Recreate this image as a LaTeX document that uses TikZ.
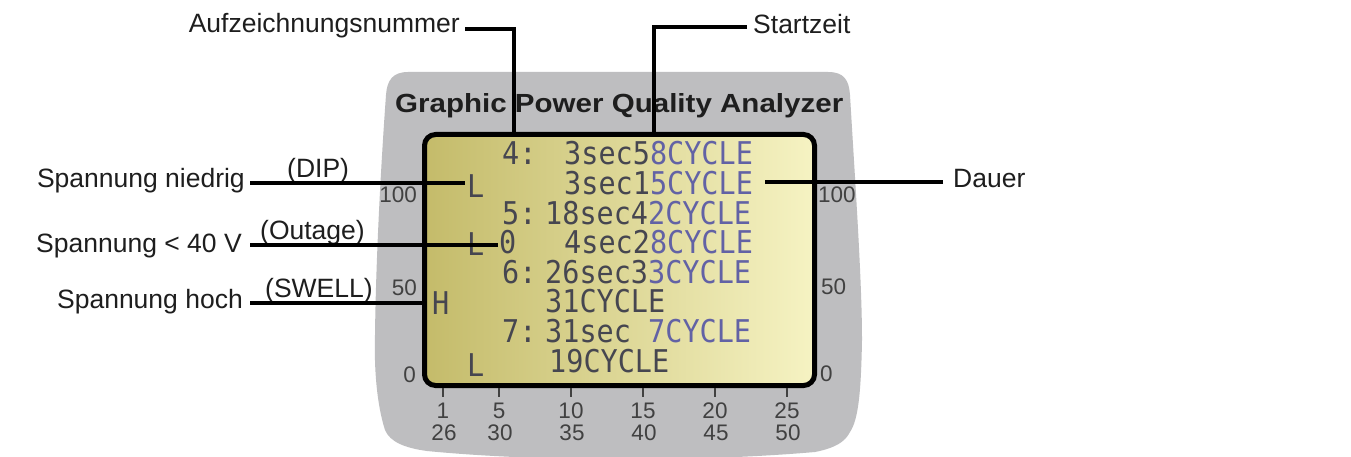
\documentclass[tikz,border=0pt]{standalone}
\usepackage{fontspec}
\usepackage{graphicx}
\setmainfont{Liberation Sans}
\newfontfamily\lcdfont{DejaVu Sans Mono}
\definecolor{bodyc}{RGB}{190,190,192}
\definecolor{lcdL}{RGB}{196,187,106}
\definecolor{lcdR}{RGB}{246,243,195}
\definecolor{lcdA}{RGB}{70,70,80}
\definecolor{lcdB}{RGB}{98,98,165}
\definecolor{labc}{RGB}{30,30,30}
\definecolor{numc}{RGB}{65,65,65}
\newcommand{\lcdtall}[1]{\scalebox{1}[1.1]{#1}}
\begin{document}
\begin{tikzpicture}[x=1pt,y=-1pt,
  lab/.style={font=\fontsize{26.5}{30}\selectfont, text=labc, inner sep=0pt},
  num/.style={font=\fontsize{22.5}{24}\selectfont, text=numc, inner sep=0pt},
  lcd/.style={font=\lcdfont\fontsize{28.5}{30}\selectfont, text=lcdA, inner sep=0pt, anchor=base west},
  conn/.style={draw=black, line width=3.2pt},
  tick/.style={draw=numc, line width=2pt},
]
\useasboundingbox (0,0) rectangle (1351,457);
\fill[white] (0,0) rectangle (1351,457);

% device body
\fill[bodyc] (408,72) -- (828,72)
  .. controls (844,72) and (849,80) .. (850,95)
  .. controls (855,180) and (862,280) .. (862,340)
  .. controls (861,395) and (858,420) .. (850,432)
  .. controls (845,442) and (835,448) .. (815,452)
  .. controls (700,462) and (540,462) .. (427,451)
  .. controls (405,448) and (390,442) .. (385,430)
  .. controls (377,405) and (374,370) .. (375,335)
  .. controls (376,250) and (382,150) .. (386,95)
  .. controls (387,80) and (393,72) .. (408,72) -- cycle;

% title
\node[anchor=base west, inner sep=0pt, text=labc] (title) at (395,113)
  {\resizebox{448pt}{19pt}{\bfseries Graphic Power Quality Analyzer}};

% screen
\node[draw=black, line width=5pt, rounded corners=11pt, left color=lcdL, right color=lcdR,
      minimum width=390pt, minimum height=251pt, inner sep=0pt] (screen) at (619.5,260) {};

% LCD text
\node[lcd] (n4) at (502,165) {\lcdtall{4:}};
\node[lcd] (t4) at (564,165) {\lcdtall{3sec5\textcolor{lcdB}{8CYCLE}}};
\node[lcd] (La) at (467,197) {\lcdtall{L}};
\node[lcd] (t4b) at (564,194) {\lcdtall{3sec1\textcolor{lcdB}{5CYCLE}}};
\node[lcd] (n5) at (502,224) {\lcdtall{5:}};
\node[lcd] (t5) at (545,224) {\lcdtall{18sec4\textcolor{lcdB}{2CYCLE}}};
\node[lcd] (Lb) at (467,255) {\lcdtall{L}};
\node[lcd] (Zb) at (499,253) {\lcdtall{0}};
\node[lcd] (t5b) at (564,253) {\lcdtall{4sec2\textcolor{lcdB}{8CYCLE}}};
\node[lcd] (n6) at (502,283) {\lcdtall{6:}};
\node[lcd] (t6) at (545,283) {\lcdtall{26sec3\textcolor{lcdB}{3CYCLE}}};
\node[lcd] (Hc) at (432,314) {\lcdtall{H}};
\node[lcd] (t6b) at (545,312) {\lcdtall{31CYCLE}};
\node[lcd] (n7) at (502,342) {\lcdtall{7:}};
\node[lcd] (t7) at (545,342) {\lcdtall{31sec}};
\node[lcd] (t7c) at (648,342) {\lcdtall{\textcolor{lcdB}{7CYCLE}}};
\node[lcd] (Ld) at (467,376) {\lcdtall{L}};
\node[lcd] (t7b) at (549,372) {\lcdtall{19CYCLE}};

% axis numbers
\node[num, anchor=base east] (l100) at (417,203) {100};
\node[num, anchor=base east] (l50) at (417,295) {50};
\node[num, anchor=base east] (l0) at (416,382) {0};
\node[num, anchor=base west] (r100) at (818,203) {100};
\node[num, anchor=base west] (r50) at (821,294) {50};
\node[num, anchor=base west] (r0) at (820,381) {0};

\foreach \x/\a/\b [count=\i] in {443/1/26, 499/5/30, 571/10/35, 643/15/40, 715/20/45, 787/25/50} {
  \coordinate (tk\i) at (\x,388);
  \coordinate (tke\i) at (\x,397);
  \draw[tick] (tk\i) -- (tke\i);
  \node[num, anchor=base] (ba\i) at (\x,418) {\a};
  \node[num, anchor=base] (bb\i) at (\x+1,440) {\b};
}

% labels
\node[lab, anchor=base east] (auf) at (460,33) {Aufzeichnungsnummer};
\node[lab, anchor=base west] (start) at (753,34) {Startzeit};
\node[lab, anchor=base west] (dauer) at (953,188) {Dauer};
\node[lab, anchor=base east] (nied) at (245,187) {Spannung niedrig};
\node[lab, anchor=base east] (low) at (242,252) {Spannung < 40 V};
\node[lab, anchor=base east] (hoch) at (243,308) {Spannung hoch};
\node[lab, anchor=base west] (dip) at (287,178) {(DIP)};
\node[lab, anchor=base west] (out) at (260,239) {(Outage)};
\node[lab, anchor=base west] (swell) at (265,297) {(SWELL)};

% connector end points
\coordinate (aufE) at (514,137);
\coordinate (startE) at (654,137);
\coordinate (dauerE) at (765,182);
\coordinate (niedE) at (465,183);
\coordinate (lowE) at (498,245);
\coordinate (hochE) at (422,303);

% connectors
\draw[conn] (auf.base east) ++(5,-4) -| (aufE);
\draw[conn] (start.base west) ++(-6,-7) -| (startE);
\draw[conn] (dauer.base west) ++(-10,-6) -- (dauerE);
\draw[conn] (nied.base east) ++(5,-4) -- (niedE);
\draw[conn] (low.base east) ++(8,-7) -- (lowE);
\draw[conn] (hoch.base east) ++(7,-5) -- (hochE);
\end{tikzpicture}
\end{document}
